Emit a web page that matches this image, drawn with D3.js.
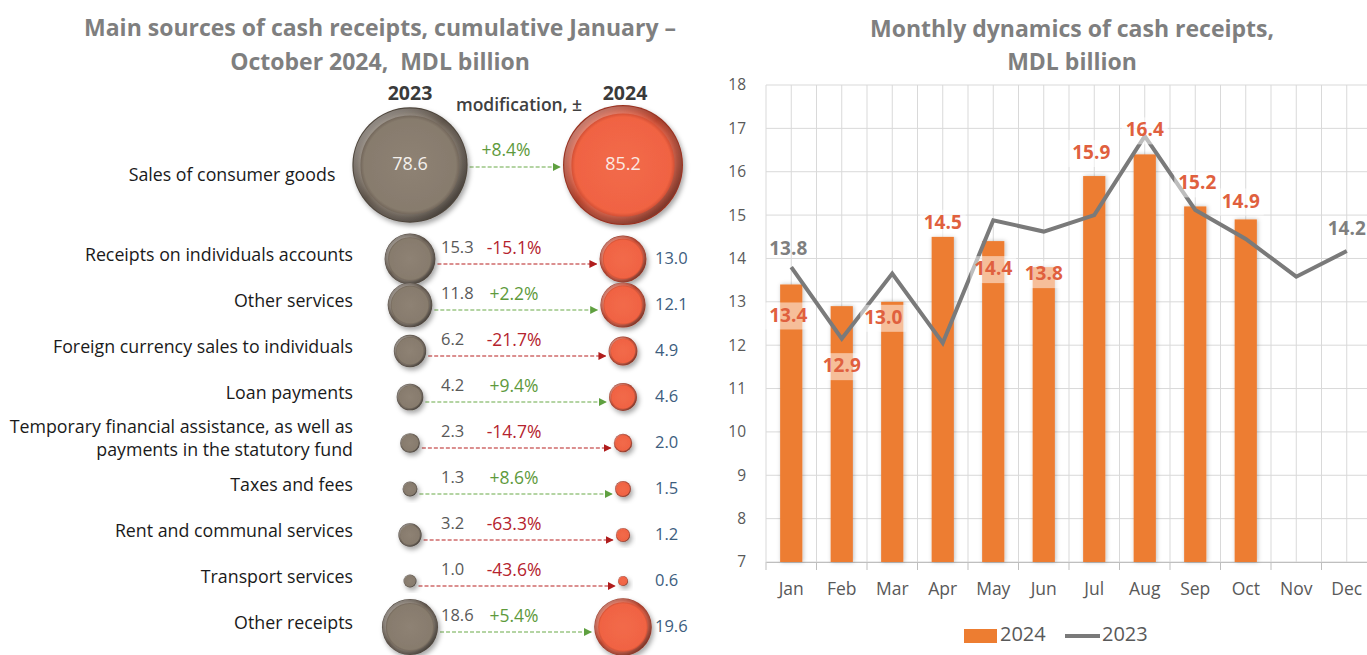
<!DOCTYPE html>
<html>
<head>
<meta charset="utf-8">
<script src="https://cdn.jsdelivr.net/npm/d3@7"></script>
<style>
  body { margin: 0; background: #fff; }
  svg { display: block; font-family: "Open Sans", "Noto Sans", sans-serif; }
</style>
</head>
<body>
<div id="chart"></div>
<script>
// ---- left panel data ----
const sources = [
    'Sales of consumer goods',
    'Receipts on individuals accounts',
    'Other services',
    'Foreign currency sales to individuals',
    'Loan payments',
    'Temporary financial assistance, as well as|payments in the statutory fund',
    'Taxes and fees',
    'Rent and communal services',
    'Transport services',
    'Other receipts'
];
const values2023 = [78.6, 15.3, 11.8, 6.2, 4.2, 2.3, 1.3, 3.2, 1.0, 18.6];
const values2024 = [85.2, 13.0, 12.1, 4.9, 4.6, 2.0, 1.5, 1.2, 0.6, 19.6];
const changes = ['+8.4%', '-15.1%', '+2.2%', '-21.7%', '+9.4%', '-14.7%', '+8.6%', '-63.3%', '-43.6%', '+5.4%'];

// ---- right panel data ----
const months = ['Jan', 'Feb', 'Mar', 'Apr', 'May', 'Jun', 'Jul', 'Aug', 'Sep', 'Oct', 'Nov', 'Dec'];
const monthly2024 = [13.4, 12.9, 13.0, 14.5, 14.4, 13.8, 15.9, 16.4, 15.2, 14.9];
const monthly2023 = [13.8, 12.15, 13.65, 12.05, 14.88, 14.62, 15.0, 16.82, 15.12, 14.45, 13.58, 14.17];
const yTicks = [7, 8, 9, 10, 11, 12, 13, 14, 15, 16, 17, 18];

// label offsets (px from bar top, + = below) for the 2024 data labels
const labelDy = [32, 61, 17, -13, 29, 8, -22, -23, -22, -17];
const labelDx = [-3, 0, -9, 0, 0, 0, -3, 0, 2, -5];

const W = 1367, H = 655;
const svg = d3.select('#chart').append('svg')
    .attr('width', W)
    .attr('height', H);

svg.append('rect').attr('width', W).attr('height', H).attr('fill', '#fff');

const defs = svg.append('defs');

const shadow = defs.append('filter').attr('id', 'shadow')
    .attr('x', '-30%').attr('y', '-30%').attr('width', '170%').attr('height', '170%');
shadow.append('feDropShadow')
    .attr('dx', 2).attr('dy', 3).attr('stdDeviation', 2.5)
    .attr('flood-color', '#000').attr('flood-opacity', 0.35);

const barShadow = defs.append('filter').attr('id', 'barShadow')
    .attr('x', '-40%').attr('y', '-10%').attr('width', '180%').attr('height', '120%');
barShadow.append('feDropShadow')
    .attr('dx', 1).attr('dy', 0).attr('stdDeviation', 2)
    .attr('flood-color', '#000').attr('flood-opacity', 0.25);

function bubbleGradient(id, light, base, dark) {
    const g = defs.append('radialGradient').attr('id', id)
        .attr('cx', '50%').attr('cy', '50%').attr('r', '50%');
    g.append('stop').attr('offset', '0%').attr('stop-color', light);
    g.append('stop').attr('offset', '80%').attr('stop-color', base);
    g.append('stop').attr('offset', '92%').attr('stop-color', dark);
    g.append('stop').attr('offset', '100%').attr('stop-color', d3.color(dark).darker(0.6));
}
bubbleGradient('b23', '#8e8274', '#877b6d', '#5e5348');
bubbleGradient('b24', '#f26a4a', '#f06343', '#b83d26');

const ring = defs.append('linearGradient').attr('id', 'ring')
    .attr('x1', '0%').attr('y1', '0%').attr('x2', '100%').attr('y2', '100%');
ring.append('stop').attr('offset', '0%').attr('stop-color', '#fff').attr('stop-opacity', 0.45);
ring.append('stop').attr('offset', '45%').attr('stop-color', '#fff').attr('stop-opacity', 0.05);
ring.append('stop').attr('offset', '100%').attr('stop-color', '#000').attr('stop-opacity', 0.45);

function marker(id, color) {
    defs.append('marker').attr('id', id)
        .attr('viewBox', '0 0 10 10').attr('refX', 9).attr('refY', 5)
        .attr('markerWidth', 8).attr('markerHeight', 8)
        .attr('markerUnits', 'userSpaceOnUse')
        .attr('orient', 'auto')
        .append('path').attr('d', 'M0,0 L10,5 L0,10 z').attr('fill', color);
}
marker('arrowGreen', '#5fa040');
marker('arrowRed', '#b01c1c');

// ================= LEFT PANEL =================
const left = svg.append('g');

left.append('text').attr('x', 380).attr('y', 36)
    .attr('text-anchor', 'middle').attr('font-size', 23).attr('font-weight', 'bold')
    .attr('fill', '#7f7f7f').text('Main sources of cash receipts, cumulative January –');
left.append('text').attr('x', 380).attr('y', 70)
    .attr('text-anchor', 'middle').attr('font-size', 23).attr('font-weight', 'bold')
    .style('white-space', 'pre')
    .attr('fill', '#7f7f7f').text('October 2024,  MDL billion');

const cx23 = 410, cx24 = 623;

left.append('text').attr('x', cx23).attr('y', 100)
    .attr('text-anchor', 'middle').attr('font-size', 19.5).attr('font-weight', 'bold')
    .attr('fill', '#3a3a3a').text('2023');
left.append('text').attr('x', cx24 + 2).attr('y', 100)
    .attr('text-anchor', 'middle').attr('font-size', 19.5).attr('font-weight', 'bold')
    .attr('fill', '#3a3a3a').text('2024');
left.append('text').attr('x', 519).attr('y', 111)
    .attr('text-anchor', 'middle').attr('font-size', 17.5).attr('font-weight', 600)
    .attr('fill', '#404040').text('modification, ±');

const r = d3.scaleSqrt().domain([0, d3.max(values2024)]).range([0, 60]);
const rowY = d3.scalePoint().domain(d3.range(1, sources.length)).range([259, 627]);
const yOf = i => i === 0 ? 165 : rowY(i);

const rows = left.selectAll('g.row')
    .data(sources.map((s, i) => ({ name: s, v23: values2023[i], v24: values2024[i], ch: changes[i], i })))
    .join('g').attr('class', 'row');

// arrows
rows.append('line')
    .attr('x1', d => cx23 + r(d.v23) + 2)
    .attr('x2', d => cx24 - r(d.v24) - 3)
    .attr('y1', d => yOf(d.i) + (d.i === 0 ? 2 : 5))
    .attr('y2', d => yOf(d.i) + (d.i === 0 ? 2 : 5))
    .attr('stroke', d => d.ch[0] === '+' ? '#6aaa48' : '#b82020')
    .attr('stroke-width', 1.2)
    .attr('stroke-dasharray', '4,2')
    .attr('marker-end', d => d.ch[0] === '+' ? 'url(#arrowGreen)' : 'url(#arrowRed)');

function drawBubble(sel, cx, key, grad) {
    sel.append('circle')
        .attr('cx', cx).attr('cy', d => yOf(d.i))
        .attr('r', d => r(d[key]))
        .attr('fill', `url(#${grad})`)
        .attr('filter', 'url(#shadow)');
    sel.append('circle')
        .attr('cx', cx).attr('cy', d => yOf(d.i))
        .attr('r', d => r(d[key]) * 0.92)
        .attr('fill', 'none')
        .attr('stroke', 'url(#ring)')
        .attr('stroke-width', d => Math.max(1, r(d[key]) * 0.12));
}
drawBubble(rows, cx23, 'v23', 'b23');
drawBubble(rows, cx24, 'v24', 'b24');

// row names
rows.each(function (d) {
    const lines = d.name.split('|');
    const g = d3.select(this);
    const xr = Math.min(353, cx23 - r(d.v23) - 17);
    const y0 = yOf(d.i) + (d.i === 0 ? 11 : -3) - (lines.length - 1) * 11.5;
    lines.forEach((ln, k) => {
        g.append('text')
            .attr('x', xr).attr('y', y0 + k * 23)
            .attr('text-anchor', 'end').attr('dominant-baseline', 'middle')
            .attr('font-size', 17.8).attr('fill', '#1a1a1a')
            .text(ln);
    });
});

// values and changes
rows.filter(d => d.i === 0).each(function (d) {
    const g = d3.select(this);
    g.append('text').attr('x', cx23).attr('y', yOf(0))
        .attr('text-anchor', 'middle').attr('dominant-baseline', 'middle')
        .attr('font-size', 18).attr('fill', '#f4f0ec').text(d3.format('.1f')(d.v23));
    g.append('text').attr('x', cx24).attr('y', yOf(0))
        .attr('text-anchor', 'middle').attr('dominant-baseline', 'middle')
        .attr('font-size', 18).attr('fill', '#fbe8e2').text(d3.format('.1f')(d.v24));
    g.append('text').attr('x', 506).attr('y', yOf(0) - 14)
        .attr('text-anchor', 'middle').attr('dominant-baseline', 'middle')
        .attr('font-size', 17.5).attr('fill', '#5e9a3c').text(d.ch);
});

const small = rows.filter(d => d.i > 0);
small.append('text')
    .attr('x', 441).attr('y', d => yOf(d.i) - 10)
    .attr('dominant-baseline', 'middle')
    .attr('font-size', 16.5).attr('fill', '#595959')
    .text(d => d3.format('.1f')(d.v23));
small.append('text')
    .attr('x', 514).attr('y', d => yOf(d.i) - 10)
    .attr('text-anchor', 'middle').attr('dominant-baseline', 'middle')
    .attr('font-size', 17.5)
    .attr('fill', d => d.ch[0] === '+' ? '#5e9a3c' : '#b5232e')
    .text(d => d.ch);
small.append('text')
    .attr('x', 655).attr('y', d => yOf(d.i) + 1)
    .attr('dominant-baseline', 'middle')
    .attr('font-size', 16.5).attr('fill', '#3d5d7e')
    .text(d => d3.format('.1f')(d.v24));

// ================= RIGHT PANEL =================
const right = svg.append('g');

right.append('text').attr('x', 1072).attr('y', 37)
    .attr('text-anchor', 'middle').attr('font-size', 23).attr('font-weight', 'bold')
    .attr('fill', '#7f7f7f').text('Monthly dynamics of cash receipts,');
right.append('text').attr('x', 1072).attr('y', 70)
    .attr('text-anchor', 'middle').attr('font-size', 23).attr('font-weight', 'bold')
    .attr('fill', '#7f7f7f').text('MDL billion');

const x = d3.scaleBand().domain(months).range([766, 1372]).padding(0);
const y = d3.scaleLinear().domain([7, 18]).range([562, 85]);
const bw = x.bandwidth();

// grid
right.append('g').selectAll('line.h')
    .data(yTicks)
    .join('line')
    .attr('x1', 766).attr('x2', 1372)
    .attr('y1', d => y(d)).attr('y2', d => y(d))
    .attr('stroke', '#d9d9d9').attr('stroke-width', 1);

const halfSteps = d3.range(0, months.length * 2 + 1);
right.append('g').selectAll('line.v')
    .data(halfSteps)
    .join('line')
    .attr('x1', d => 766 + d * bw / 2).attr('x2', d => 766 + d * bw / 2)
    .attr('y1', y(18)).attr('y2', y(7))
    .attr('stroke', '#d9d9d9').attr('stroke-width', 1);

// axes
const yAxis = right.append('g')
    .attr('transform', 'translate(766,0)')
    .call(d3.axisLeft(y).tickValues(yTicks).tickSize(0).tickPadding(20));
yAxis.select('.domain').remove();
yAxis.selectAll('text').attr('font-size', 15.5).attr('fill', '#595959')
    .attr('font-family', '"Open Sans", "Noto Sans", sans-serif');

const xAxis = right.append('g')
    .attr('transform', `translate(0,${y(7)})`)
    .call(d3.axisBottom(x).tickSize(0).tickPadding(21));
xAxis.select('.domain').attr('stroke', '#bfbfbf');
xAxis.selectAll('text').attr('font-size', 17.5).attr('fill', '#595959')
    .attr('font-family', '"Open Sans", "Noto Sans", sans-serif');

right.append('g').selectAll('line.tk')
    .data(d3.range(0, months.length + 1))
    .join('line')
    .attr('x1', d => 766 + d * bw).attr('x2', d => 766 + d * bw)
    .attr('y1', y(7)).attr('y2', y(7) + 8)
    .attr('stroke', '#bfbfbf');

// bars
const barW = bw * 0.44;
right.append('g').selectAll('rect')
    .data(monthly2024)
    .join('rect')
    .attr('x', (d, i) => x(months[i]) + bw / 2 - barW / 2)
    .attr('width', barW)
    .attr('y', d => y(d))
    .attr('height', d => y(7) - y(d))
    .attr('fill', '#ed7d31')
    .attr('filter', 'url(#barShadow)');

// line 2023
const line = d3.line()
    .x((d, i) => x(months[i]) + bw / 2)
    .y(d => y(d));
right.append('path')
    .datum(monthly2023)
    .attr('d', line)
    .attr('fill', 'none')
    .attr('stroke', '#7a7a7a')
    .attr('stroke-width', 4)
    .attr('stroke-linejoin', 'miter');

// 2024 data labels
const lbl = right.append('g').selectAll('g')
    .data(monthly2024)
    .join('g')
    .attr('transform', (d, i) => `translate(${x(months[i]) + bw / 2 + labelDx[i]},${y(d) + labelDy[i]})`);
lbl.append('rect')
    .attr('x', -23).attr('y', -14).attr('width', 46).attr('height', 27)
    .attr('fill', '#fff').attr('fill-opacity', 0.5);
lbl.append('text')
    .attr('text-anchor', 'middle').attr('dominant-baseline', 'middle')
    .attr('font-size', 19).attr('font-weight', 'bold')
    .attr('fill', '#e0603e')
    .text(d => d3.format('.1f')(d));

// 2023 data labels (first and last)
[0, months.length - 1].forEach(i => {
    right.append('text')
        .attr('x', x(months[i]) + bw / 2 + (i === 0 ? -3 : 0))
        .attr('y', y(monthly2023[i]) - (i === 0 ? 17 : 21))
        .attr('text-anchor', 'middle').attr('dominant-baseline', 'middle')
        .attr('font-size', 19).attr('font-weight', 'bold')
        .attr('fill', '#7f7f7f')
        .text(d3.format('.1f')(monthly2023[i]));
});

// legend
const legend = right.append('g').attr('transform', 'translate(964,636)');
legend.append('rect').attr('x', 0).attr('y', -7).attr('width', 33).attr('height', 14).attr('fill', '#ed7d31');
legend.append('text').attr('x', 36).attr('y', 0).attr('dominant-baseline', 'middle')
    .attr('font-size', 20).attr('fill', '#595959').text('2024');
legend.append('line').attr('x1', 101).attr('x2', 136).attr('y1', 0).attr('y2', 0)
    .attr('stroke', '#7a7a7a').attr('stroke-width', 4);
legend.append('text').attr('x', 138).attr('y', 0).attr('dominant-baseline', 'middle')
    .attr('font-size', 20).attr('fill', '#595959').text('2023');
</script>
</body>
</html>
